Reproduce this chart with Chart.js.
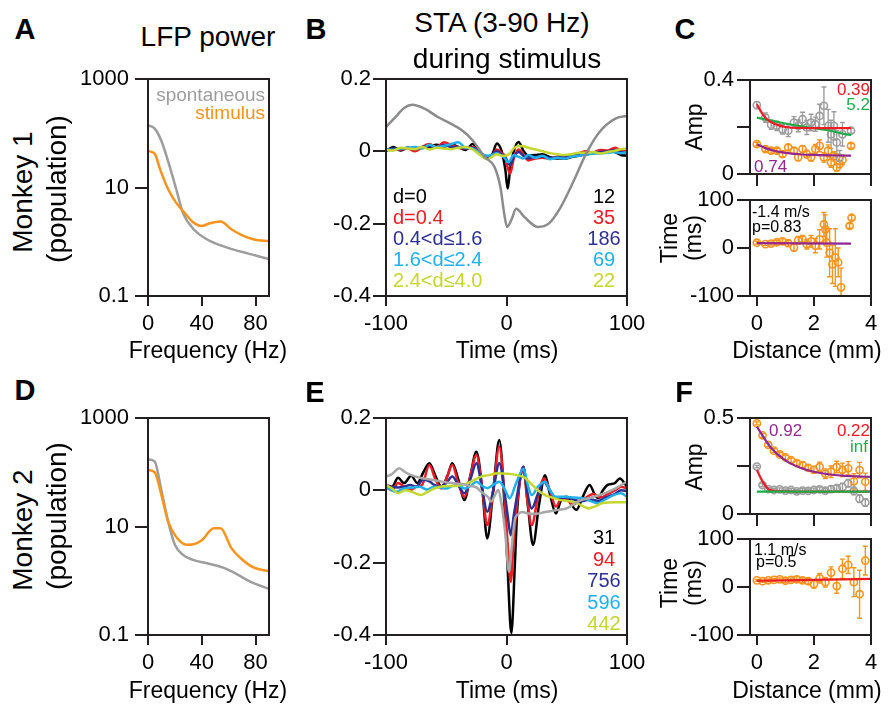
<!DOCTYPE html>
<html>
<head>
<meta charset="utf-8">
<script src="https://cdn.jsdelivr.net/npm/chart.js@4.4.1/dist/chart.umd.min.js"></script>
<style>
body{margin:0;background:#fff;width:888px;height:709px;position:relative;overflow:hidden;font-family:"Liberation Sans",Arial,Helvetica,sans-serif;color:#000}
canvas{position:absolute}
.t{position:absolute;white-space:nowrap;line-height:1}
</style>
</head>
<body>
<script>
// ---------- data ----------
// A: LFP power, monkey 1
const aSponF = [0,5,10,16,21,26,34,44,59,74,90];
const aSponP = [140,122,72,25,9.3,3.4,1.7,1.1,0.78,0.61,0.48];
const aStimF = [0,5,9,15,21,26,34,40,46,54,62,71,79,90];
const aStimP = [47,42,21.6,9.3,5.2,3.7,2.24,1.95,2.2,2.35,1.7,1.28,1.1,1.03];
// D: LFP power, monkey 2
const dSponF = [0,5,10,15,20,26,34,44,56,65,76,90];
const dSponP = [173,157,46,12.3,4.6,3.0,2.4,2.1,1.74,1.37,0.96,0.71];
const dStimF = [0,5,10,15,21,29,34,40,49,54,62,69,78,90];
const dStimP = [110,100,38,12.3,6.4,4.6,4.7,5.6,9.3,9.3,4.0,2.6,1.78,1.5];
const freqTicks = [0,40,80];
const powTicks = [0.1,10,1000];

// B: STA monkey 1
const tB = [-100,-94,-88,-82,-76,-70,-64,-58,-52,-46,-40,-34,-28,-22,-16,-12,-8,-4,-1,1,3,6,10,14,18,24,30,36,42,48,54,60,66,72,78,84,90,95,100];
const bBlack = [0.0,0.012,0.002,0.01,0.004,0.01,0.012,0.018,0.012,0.02,0.012,0.004,0.02,-0.004,-0.016,-0.01,0.022,0.0,-0.05,-0.103,-0.05,0.0,0.026,0.002,-0.012,-0.01,-0.008,-0.016,-0.02,-0.02,-0.016,-0.012,-0.008,-0.005,-0.003,0.0,-0.002,-0.01,-0.012];
const bRed = [0.005,0.006,0.004,0.008,0.0,0.012,0.02,0.012,0.025,0.018,0.01,0.008,0.012,-0.005,-0.02,-0.012,0.005,-0.005,-0.015,-0.045,-0.062,-0.02,0.005,-0.01,-0.025,-0.02,-0.018,-0.02,-0.015,-0.012,-0.01,-0.005,0.0,-0.003,0.004,0.002,0.01,0.003,0.005];
const bNavy = [0.002,0.008,0.006,0.01,0.006,0.012,0.015,0.01,0.018,0.012,0.012,0.008,0.01,-0.008,-0.018,-0.01,0.0,-0.008,-0.015,-0.03,-0.038,-0.015,-0.002,-0.012,-0.02,-0.015,-0.015,-0.018,-0.016,-0.014,-0.012,-0.008,-0.006,-0.004,-0.002,0.0,0.004,-0.002,-0.004];
const bCyan = [0.005,0.004,0.008,0.01,0.012,0.008,0.018,0.012,0.015,0.02,0.025,0.01,0.008,-0.005,-0.012,-0.01,-0.005,-0.012,-0.02,-0.03,-0.025,-0.01,-0.015,-0.02,-0.01,-0.018,-0.012,-0.022,-0.018,-0.02,-0.015,-0.012,-0.01,-0.006,-0.006,-0.004,-0.002,-0.005,-0.003];
const bYel = [0.004,0.002,0.01,0.008,0.006,0.012,0.005,0.01,0.008,0.006,0.01,0.012,0.005,-0.01,-0.022,-0.015,-0.008,-0.012,-0.012,-0.01,-0.005,0.008,0.015,0.014,0.01,0.005,0.0,-0.005,-0.008,-0.01,-0.008,-0.004,-0.004,-0.002,-0.006,-0.002,0.002,0.006,0.008];
const bGrayT = [-100,-92,-85,-78,-68,-57,-46,-37,-28,-18,-10,-5,-2,0.5,4,8,15,26,35,45,56,66,77,90,100];
const bGrayV = [0.067,0.095,0.12,0.129,0.118,0.095,0.076,0.058,0.03,-0.016,-0.043,-0.1,-0.17,-0.209,-0.19,-0.159,-0.182,-0.209,-0.2,-0.154,-0.08,-0.007,0.053,0.09,0.098];
const bLabels = ['d=0','d=0.4','0.4<d\u22641.6','1.6<d\u22642.4','2.4<d\u22644.0'];
const bCounts = ['12','35','186','69','22'];

// E: STA monkey 2
const eBlackT = [-100,-95,-90,-85,-79,-74,-69,-64,-59,-54,-49,-45,-40,-35,-30,-25,-20,-16,-11,-6,-1,1,4,7,9,14,18,22,27,32,36,41,45,50,54,58,63,69,73,76,80,84,90,94,100];
const eBlackV = [0.015,0.01,0.035,0.02,0.04,0.02,0.05,0.075,0.04,0.01,0.04,0.075,0.03,-0.027,0.04,0.107,0.0,-0.133,0.0,0.139,-0.08,-0.22,-0.395,-0.2,-0.05,0.065,-0.05,-0.151,-0.04,0.042,-0.01,-0.064,-0.03,-0.018,-0.04,-0.054,-0.02,0.015,-0.01,-0.022,0.0,0.015,0.02,0.033,0.01];
const eRedT = [-100,-95,-90,-85,-80,-75,-70,-64,-59,-54,-49,-45,-40,-35,-30,-25,-20,-16,-11,-6,-1,1,3.5,6,9,14,17,21,26,31,36,41,46,50,55,60,66,72,78,84,90,95,100];
const eRedV = [0.01,0.0,0.02,0.01,0.0,0.01,0.015,0.07,0.03,0.005,0.04,0.07,0.02,-0.018,0.04,0.098,0.0,-0.096,0.0,0.121,-0.05,-0.15,-0.253,-0.14,-0.03,0.061,-0.02,-0.096,-0.02,0.033,0.0,-0.045,-0.02,-0.025,-0.04,-0.03,-0.02,-0.01,-0.02,-0.01,0.0,0.01,0.005];
const eNavyT = [-100,-90,-85,-80,-75,-69,-64,-60,-55,-50,-45,-40,-35,-30,-25,-20,-16,-11,-6,-1,1,3.5,6,9,14,17,21,26,31,36,41,48,55,62,70,76,82,90,95,100];
const eNavyV = [0.01,0.008,0.01,0.015,0.01,0.03,0.025,0.015,0.01,0.02,0.038,0.015,-0.008,0.03,0.075,0.0,-0.059,0.0,0.075,-0.02,-0.07,-0.124,-0.07,-0.01,0.065,0.0,-0.05,-0.01,0.024,0.0,-0.022,-0.02,-0.025,-0.03,-0.025,-0.03,-0.02,-0.01,0.0,-0.002];
const eCyanT = [-100,-92,-85,-78,-72,-66,-60,-55,-50,-45,-40,-35,-30,-25,-20,-16,-11,-6,-1,2.5,8,14,18,21,26,32,36,41,48,56,64,70,76,82,90,95,100];
const eCyanV = [0.01,-0.004,0.005,0.008,0.01,0.002,0.01,0.008,0.005,0.012,0.015,0.005,0.012,0.024,0.012,0.006,0.015,0.024,0.0,-0.022,0.02,0.06,0.01,-0.013,0.01,0.024,0.0,-0.018,-0.018,-0.02,-0.022,-0.03,-0.036,-0.025,-0.012,-0.008,-0.018];
const eYelT = [-100,-95,-90,-84,-78,-71,-66,-60,-55,-50,-44,-38,-32,-26,-21,-15,-7,0,9,15,20,26,32,38,45,52,59,64,68,73,80,90,100];
const eYelV = [0.015,0.005,-0.008,0.0,-0.005,-0.013,-0.005,0.005,0.01,0.012,0.012,0.015,0.02,0.03,0.038,0.042,0.047,0.046,0.042,0.035,0.02,0.0,-0.013,-0.02,-0.027,-0.03,-0.036,-0.045,-0.05,-0.045,-0.035,-0.033,-0.033];
const eGrayT = [-100,-95,-89,-84,-79,-72,-62,-55,-45,-38,-30,-25,-21,-15,-13,-9,-7,-4,-1,2,4.5,7,9,13,18,25,32,43,50,60,70,80,90,100];
const eGrayV = [0.038,0.045,0.061,0.05,0.042,0.035,0.029,0.025,0.02,0.018,0.012,0.008,-0.004,-0.02,-0.031,-0.01,0.001,-0.04,-0.12,-0.225,-0.15,-0.08,-0.068,-0.06,-0.064,-0.065,-0.06,-0.054,-0.05,-0.03,-0.02,-0.01,0.005,0.024];
const eCounts = ['31','94','756','596','442'];
const timeTicks = [-100,0,100];
const staTicks = [-0.4,-0.2,0,0.2];

// C: monkey 1 amplitude / time vs distance
const cDist = [0,0.3,0.5,0.7,0.9,1.1,1.3,1.45,1.6,1.75,1.9,2.05,2.2,2.35,2.5,2.6,2.7,2.8,2.9,3.0,3.3];
const cGrayAmp = [0.293,0.24,0.21,0.205,0.19,0.184,0.219,0.205,0.233,0.198,0.219,0.212,0.247,0.29,0.205,0.169,0.205,0.134,0.07,0.169,0.184];
const cGrayErr = [0.015,0.02,0.02,0.02,0.02,0.025,0.025,0.025,0.03,0.03,0.035,0.03,0.05,0.08,0.07,0.06,0.06,0.05,0.03,0.05,0.01];
const cOrAmp = [0.127,0.106,0.099,0.099,0.085,0.113,0.099,0.071,0.106,0.085,0.071,0.106,0.12,0.071,0.099,0.049,0.075,0.028,0.042,0.06,0.12];
const cOrErr = [0.008,0.01,0.01,0.01,0.012,0.012,0.012,0.014,0.014,0.016,0.016,0.02,0.025,0.02,0.025,0.02,0.02,0.015,0.015,0.02,0.01];
const cRedFitD = [0,0.2,0.4,0.7,1,1.5,2,3.3];
const cRedFitV = [0.297,0.255,0.228,0.21,0.2,0.196,0.195,0.195];
const cGreenFitD = [0,0.5,1,1.5,2,2.5,3,3.3];
const cGreenFitV = [0.24,0.227,0.215,0.204,0.195,0.186,0.172,0.166];
const cPurpFitD = [0,0.3,0.6,1,1.5,2,3.3];
const cPurpFitV = [0.127,0.11,0.099,0.09,0.084,0.081,0.078];
const cTimeD = [0,0.3,0.5,0.7,0.9,1.1,1.3,1.45,1.6,1.75,1.9,2.05,2.2,2.35,2.4,2.45,2.55,2.65,2.75,2.85,2.95,3.25,3.32];
const cTimeV = [11,8,9,12,14,10,1,16,18,8,14,5,18,49,39,11,-10,-34,-20,-30,-82,46,63];
const cTimeErr = [3,3,3,4,5,6,7,8,8,10,12,15,20,25,30,30,50,40,60,30,40,5,5];
const cTimeFitD = [0,3.3];
const cTimeFitV = [10,9];

// F: monkey 2 amplitude / time vs distance
const fDist = [0,0.2,0.4,0.6,0.8,1.0,1.2,1.4,1.6,1.8,2.0,2.2,2.4,2.6,2.8,3.0,3.2,3.4,3.6,3.8];
const fOrAmp = [0.472,0.41,0.36,0.33,0.31,0.295,0.28,0.265,0.255,0.24,0.23,0.245,0.21,0.22,0.245,0.23,0.238,0.17,0.229,0.168];
const fOrErr = [0.008,0.01,0.01,0.01,0.01,0.012,0.012,0.012,0.015,0.015,0.018,0.025,0.025,0.03,0.03,0.035,0.035,0.04,0.04,0.045];
const fGrayAmp = [0.247,0.15,0.13,0.125,0.128,0.122,0.125,0.118,0.122,0.12,0.125,0.128,0.122,0.13,0.135,0.14,0.16,0.12,0.08,0.06];
const fGrayErr = [0.006,0.008,0.008,0.008,0.008,0.008,0.008,0.01,0.01,0.01,0.01,0.012,0.012,0.015,0.015,0.02,0.02,0.02,0.02,0.02];
const fRedFitD = [0,0.2,0.4,0.6,1,2,4];
const fRedFitV = [0.229,0.17,0.13,0.121,0.118,0.117,0.117];
const fGreenFitD = [0,4];
const fGreenFitV = [0.117,0.117];
const fPurpFitD = [0,0.5,1,1.5,2,2.5,3,3.5,4];
const fPurpFitV = [0.455,0.344,0.279,0.242,0.22,0.207,0.2,0.196,0.193];
const fTimeV = [13.8,12,14,15,16,13,15,16,14,12,6,18,10,30,2,38,46,10,-15,55];
const fTimeErr = [2,2,3,3,3,4,4,5,5,6,8,10,10,12,15,20,18,30,50,30];
const fTimeFitD = [0,4];
const fTimeFitV = [13,17];
const distTicks = [0,2,4];

// ---------- styling ----------
const AX = '#231f20';
const TICK = 22;
const C_GRAY = '#9d9d9d', C_OR = '#f7941d', C_RED = '#ed1c24', C_NAVY = '#2e3192',
      C_CYAN = '#22b0ec', C_YEL = '#c5d62e', C_PURP = '#92278f', C_GREEN = '#1fad4b';
Chart.defaults.font.family = '"Liberation Sans", Arial, Helvetica, sans-serif';
Chart.defaults.color = '#000';

const pts = (xs, ys) => xs.map((x, i) => ({x: x, y: ys[i]}));
const line = (xs, ys, col, w) => ({data: pts(xs, ys), showLine: true, borderColor: col, borderWidth: w || 2.5,
  pointRadius: 0, cubicInterpolationMode: 'monotone', fill: false});
const dots = (xs, ys, err, col) => ({data: pts(xs, ys), showLine: false, err: err, borderColor: col,
  pointRadius: 3.6, pointBorderWidth: 1.6, pointBorderColor: col, pointBackgroundColor: 'rgba(255,255,255,0)'});

const frame = {id: 'frame', afterDatasetsDraw(ch) {
  const a = ch.chartArea, c = ch.ctx;
  c.save(); c.strokeStyle = AX; c.lineWidth = 2;
  c.strokeRect(a.left, a.top, a.right - a.left, a.bottom - a.top); c.restore();
}};
const errBars = {id: 'errBars', beforeDatasetsDraw(ch) {
  const c = ch.ctx, xs = ch.scales.x, ys = ch.scales.y, a = ch.chartArea;
  c.save(); c.beginPath(); c.rect(a.left, a.top, a.right - a.left, a.bottom - a.top); c.clip();
  ch.data.datasets.forEach(ds => {
    if (!ds.err) return;
    c.strokeStyle = ds.borderColor; c.lineWidth = 1.4;
    ds.data.forEach((p, i) => {
      const e = ds.err[i], x = xs.getPixelForValue(p.x);
      const y1 = ys.getPixelForValue(p.y - e), y2 = ys.getPixelForValue(p.y + e);
      c.beginPath(); c.moveTo(x, y1); c.lineTo(x, y2);
      c.moveTo(x - 2.5, y1); c.lineTo(x + 2.5, y1); c.moveTo(x - 2.5, y2); c.lineTo(x + 2.5, y2); c.stroke();
    });
  });
  c.restore();
}};

// box = [left, top, right, bottom] of the plot frame in page pixels
function mk(box, o) {
  const PL = 110, PT = 24, PR = 24, PB = 46;
  const w = box[2] - box[0] + PL + PR, h = box[3] - box[1] + PT + PB;
  const cv = document.createElement('canvas');
  cv.width = w; cv.height = h;
  Object.assign(cv.style, {left: (box[0] - PL) + 'px', top: (box[1] - PT) + 'px', width: w + 'px', height: h + 'px'});
  document.body.appendChild(cv);
  new Chart(cv, {
    type: 'scatter',
    data: {datasets: o.sets},
    options: {
      responsive: false, animation: false, events: [],
      layout: {padding: {left: 0, top: PT, right: PR, bottom: 0}},
      plugins: {legend: {display: false}, tooltip: {enabled: false}},
      scales: {
        x: {type: 'linear', min: o.x[0], max: o.x[1],
          afterBuildTicks: s => { s.ticks = o.xt.map(v => ({value: v})); },
          afterFit: s => { s.height = PB; s.paddingLeft = 0; s.paddingRight = 0; },
          grid: {drawOnChartArea: false, tickLength: o.xtl || 10, color: AX, lineWidth: 2},
          border: {display: false},
          ticks: {padding: 5, autoSkip: false, maxRotation: 0, font: {size: TICK}, color: '#000',
            callback: o.xl || (v => String(v))}},
        y: {type: o.ylog ? 'logarithmic' : 'linear', min: o.y[0], max: o.y[1],
          afterBuildTicks: s => { s.ticks = o.yt.map(v => ({value: v})); },
          afterFit: s => { s.width = PL; s.paddingTop = 0; s.paddingBottom = 0; },
          grid: {drawOnChartArea: false, tickLength: 13, color: AX, lineWidth: 2},
          border: {display: false},
          ticks: {padding: o.yp || 4, autoSkip: false, font: {size: TICK}, color: '#000',
            callback: o.yl || (v => String(v))}}
      }
    },
    plugins: [errBars, frame]
  });
}

// A, D
mk([148, 79, 269, 296], {x: [0, 90], xt: freqTicks, y: [0.1, 1000], yt: powTicks, ylog: true, yp: 6,
  sets: [line(aStimF, aStimP, C_OR), line(aSponF, aSponP, C_GRAY)]});
mk([148, 418, 269, 635], {x: [0, 90], xt: freqTicks, y: [0.1, 1000], yt: powTicks, ylog: true, yp: 6,
  sets: [line(dStimF, dStimP, C_OR), line(dSponF, dSponP, C_GRAY)]});
// B, E
mk([386, 79, 627, 296], {x: [-100, 100], xt: timeTicks, y: [-0.4, 0.2], yt: staTicks, yp: 2,
  sets: [line(bGrayT, bGrayV, '#8c8c8c'), line(tB, bYel, C_YEL), line(tB, bCyan, C_CYAN),
    line(tB, bNavy, C_NAVY), line(tB, bRed, C_RED), line(tB, bBlack, '#000')]});
mk([386, 418, 627, 635], {x: [-100, 100], xt: timeTicks, y: [-0.4, 0.2], yt: staTicks, yp: 2,
  sets: [line(eGrayT, eGrayV, '#a8a8a8'), line(eYelT, eYelV, C_YEL), line(eCyanT, eCyanV, C_CYAN),
    line(eNavyT, eNavyV, C_NAVY), line(eRedT, eRedV, C_RED), line(eBlackT, eBlackV, '#000')]});
// C
mk([750, 80, 871, 174], {x: [-0.24, 4], xt: distTicks, xtl: 12, xl: () => '', y: [0, 0.4], yt: [0, 0.2, 0.4], yp: 3,
  yl: v => (v === 0.2 ? '' : String(v)),
  sets: [line(cRedFitD, cRedFitV, C_RED, 2.2), line(cGreenFitD, cGreenFitV, C_GREEN, 2.2), line(cPurpFitD, cPurpFitV, C_PURP, 2.2),
    dots(cDist, cGrayAmp, cGrayErr, C_GRAY), dots(cDist, cOrAmp, cOrErr, C_OR)]});
mk([750, 200, 871, 296], {x: [-0.24, 4], xt: distTicks, y: [-100, 100], yt: [-100, 0, 100], yp: 3,
  sets: [line(cTimeFitD, cTimeFitV, C_PURP, 2.2), dots(cTimeD, cTimeV, cTimeErr, C_OR)]});
// F
mk([750, 418, 871, 514], {x: [-0.24, 4], xt: distTicks, xtl: 12, xl: () => '', y: [0, 0.5], yt: [0, 0.25, 0.5], yp: 3,
  yl: v => (v === 0.25 ? '' : String(v)),
  sets: [line(fGreenFitD, fGreenFitV, C_GREEN, 2.2), line(fRedFitD, fRedFitV, C_RED, 2.2), line(fPurpFitD, fPurpFitV, C_PURP, 2.2),
    dots(fDist, fGrayAmp, fGrayErr, C_GRAY), dots(fDist, fOrAmp, fOrErr, C_OR)]});
mk([750, 539, 871, 635], {x: [-0.24, 4], xt: distTicks, y: [-100, 100], yt: [-100, 0, 100], yp: 3,
  sets: [line(fTimeFitD, fTimeFitV, C_RED, 2.2), dots(fDist, fTimeV, fTimeErr, C_OR)]});

// ---------- text ----------
function txt(s, x, y, o) {
  o = o || {};
  const d = document.createElement('div');
  d.className = 't'; d.textContent = s;
  d.style.left = x + 'px'; d.style.top = y + 'px';
  d.style.fontSize = (o.size || 23) + 'px';
  if (o.color) d.style.color = o.color;
  if (o.bold) d.style.fontWeight = 'bold';
  const ax = o.align === 'l' ? '0' : o.align === 'r' ? '-100%' : '-50%';
  d.style.transform = 'translate(' + ax + ',-50%)' + (o.rot ? ' rotate(-90deg)' : '');
  document.body.appendChild(d);
}
// panel letters
[['A', 25, 29], ['B', 316, 29], ['C', 685, 29], ['D', 25, 390], ['E', 315, 392], ['F', 684, 392]]
  .forEach(p => txt(p[0], p[1], p[2], {size: 29, bold: true}));
// titles
txt('LFP power', 208, 37, {size: 28});
txt('STA (3-90 Hz)', 502, 23, {size: 28});
txt('during stimulus', 507, 59, {size: 28});
// row labels
txt('Monkey 1', 23, 192, {size: 28, rot: true});
txt('(population)', 57, 189, {size: 28, rot: true});
txt('Monkey 2', 23, 530, {size: 28, rot: true});
txt('(population)', 57, 516, {size: 28, rot: true});
// axis titles
[350, 690].forEach(y => {
  txt('Frequency (Hz)', 208, y);
  txt('Time (ms)', 507, y);
  txt('Distance (mm)', 807, y);
});
txt('Amp', 694, 127, {rot: true});
txt('Time', 669, 238, {rot: true});
txt('(ms)', 693, 238, {rot: true});
txt('Amp', 694, 467, {rot: true});
txt('Time', 669, 583, {rot: true});
txt('(ms)', 693, 583, {rot: true});
// A legend
txt('spontaneous', 265, 94, {size: 19, color: C_GRAY, align: 'r'});
txt('stimulus', 265, 112, {size: 19, color: C_OR, align: 'r'});
// B / E legends
const legCols = ['#000', C_RED, C_NAVY, C_CYAN, C_YEL];
bLabels.forEach((s, i) => txt(s, 393, 195.5 + 21.2 * i, {size: 20, color: legCols[i], align: 'l'}));
bCounts.forEach((s, i) => txt(s, 604, 195.5 + 21.2 * i, {size: 20, color: legCols[i]}));
eCounts.forEach((s, i) => txt(s, 604, 537 + 21.5 * i, {size: 20, color: legCols[i]}));
// C / F annotations
txt('0.39', 870, 89, {size: 17, color: C_RED, align: 'r'});
txt('5.2', 870, 104, {size: 17, color: C_GREEN, align: 'r'});
txt('0.74', 754, 166, {size: 17, color: C_PURP, align: 'l'});
txt('-1.4 m/s', 752, 212, {size: 16, align: 'l'});
txt('p=0.83', 752, 227, {size: 16, align: 'l'});
txt('0.92', 769, 430, {size: 17, color: C_PURP, align: 'l'});
txt('0.22', 870, 430, {size: 17, color: C_RED, align: 'r'});
txt('inf', 868, 446, {size: 17, color: C_GREEN, align: 'r'});
txt('1.1 m/s', 754, 550, {size: 16, align: 'l'});
txt('p=0.5', 756, 562, {size: 16, align: 'l'});
</script>
</body>
</html>
